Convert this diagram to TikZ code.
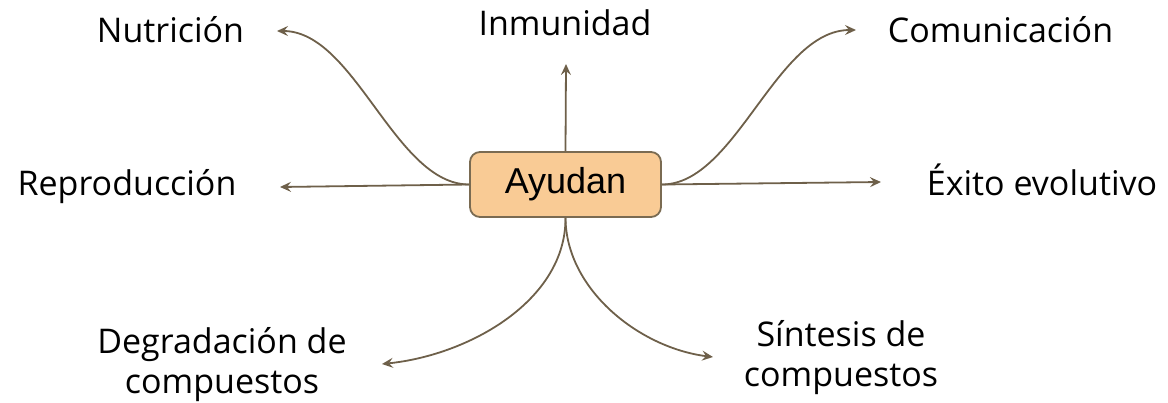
\documentclass[tikz,border=0pt]{standalone}
\usepackage{fontspec}
\newfontfamily\lblfont{Open Sans}
\newfontfamily\boxfont{Liberation Sans}
\usetikzlibrary{arrows.meta}
\definecolor{linec}{HTML}{6E604A}
\definecolor{boxfill}{HTML}{F9CB95}
\definecolor{boxline}{HTML}{7A6B52}
\tikzset{
  lbl/.style={inner sep=0pt, font=\lblfont\fontsize{34}{40}\selectfont, text=black},
  conn/.style={draw=linec, line width=1.8pt, -{Stealth[length=11pt,width=10pt,inset=4pt]}},
  hub/.style={draw=boxline, line width=1.8pt, fill=boxfill, rounded corners=10pt,
    minimum width=191pt, minimum height=65pt, inner sep=0pt,
    font=\boxfont\fontsize{36}{40}\selectfont}
}
\begin{document}
\begin{tikzpicture}[x=1pt,y=-1pt]
\useasboundingbox (0,0) rectangle (1168,402);
\node[hub] (box) at (565.5,184.5) {Ayudan};
% labels
\node[lbl, anchor=base] (nut) at (170.5,42) {Nutrición};
\node[lbl, anchor=base] (inm) at (565,35) {Inmunidad};
\node[lbl, anchor=base] (com) at (1000.5,42) {Comunicación};
\node[lbl, anchor=base] (rep) at (127,195) {Reproducción};
\node[lbl, anchor=base] (exi) at (1042,195) {Éxito evolutivo};
\node[lbl, anchor=base, align=center] (deg) at (222,393) {Degradación de\\compuestos};
\node[lbl, anchor=base, align=center] (sin) at (841,386) {Síntesis de\\compuestos};
% arrow end points
\coordinate (eNut) at (277,31);
\coordinate (eInm) at (566,64);
\coordinate (eCom) at (856,30);
\coordinate (eRep) at (280,187);
\coordinate (eExi) at (881,182);
\coordinate (eDeg) at (382,364);
\coordinate (eSin) at (713,357);
% connectors
\draw[conn] (box.west) .. controls (395,184.5) and (355,31) .. (eNut);
\draw[conn] (box.west) -- (eRep);
\draw[conn] (box.north) -- (eInm);
\draw[conn] (box.east) .. controls (736,184.5) and (776,30) .. (eCom);
\draw[conn] (box.east) -- (eExi);
\draw[conn] (box.south) .. controls (566,300) and (470,355) .. (eDeg);
\draw[conn] (box.south) .. controls (566,290) and (640,348) .. (eSin);
\end{tikzpicture}
\end{document}
